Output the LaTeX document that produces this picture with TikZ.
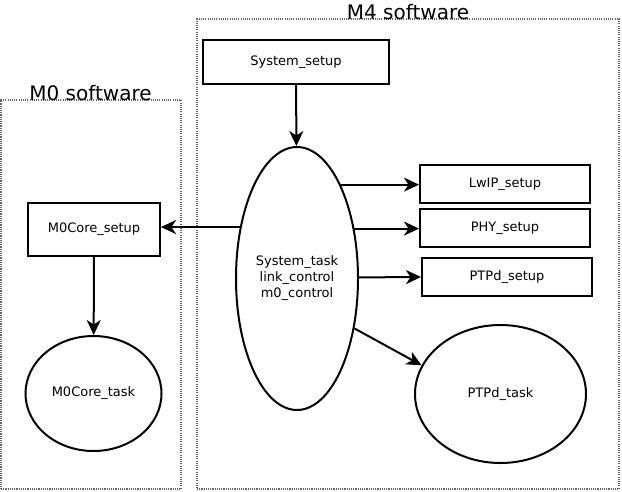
\documentclass[tikz,border=0pt]{standalone}
\usepackage{fontspec}
\setmainfont{DejaVu Sans}
\usetikzlibrary{shapes.geometric,arrows.meta}
\begin{document}
\begin{tikzpicture}[x=1pt,y=-1pt,
  box/.style={draw=black,line width=2pt,rectangle,inner sep=0pt,font=\fontsize{13}{16}\selectfont},
  oval/.style={draw=black,line width=2pt,ellipse,inner sep=0pt,align=center,font=\fontsize{13}{16}\selectfont},
  frame/.style={draw=black!60,line width=1.1pt,dash pattern=on 1.1pt off 1.1pt,rectangle,inner sep=0pt},
  arr/.style={-{Stealth[length=15pt,width=14pt,inset=4.5pt]},line width=2pt},
  title/.style={font=\fontsize{20}{22}\selectfont,anchor=base,inner sep=0pt}]
\useasboundingbox (0,0) rectangle (622,491);
% frames
\node[frame,minimum width=180pt,minimum height=389pt] (m0frame) at (91,294.5) {};
\node[frame,minimum width=422pt,minimum height=470pt] (m4frame) at (408,254) {};
\node[title] (m0title) at (90.5,100) {M0 software};
\node[title] (m4title) at (408,19.5) {M4 software};
% nodes
\node[box,minimum width=186pt,minimum height=44pt] (setup) at (296,62) {System\_setup};
\node[oval,minimum width=122pt,minimum height=263pt] (sys) at (297,278.5) {System\_task\\link\_control\\m0\_control};
\node[box,minimum width=170pt,minimum height=38pt] (lwip) at (505,184) {LwIP\_setup};
\node[box,minimum width=170pt,minimum height=38pt] (phy) at (505,228) {PHY\_setup};
\node[box,minimum width=170pt,minimum height=38pt] (ptpdsetup) at (507,277) {PTPd\_setup};
\node[oval,minimum width=171pt,minimum height=138pt] (ptask) at (500.5,394) {PTPd\_task};
\node[box,minimum width=132pt,minimum height=53pt] (m0setup) at (94,229.5) {M0Core\_setup};
\node[oval,minimum width=136pt,minimum height=115pt] (m0task) at (93.5,393.5) {M0Core\_task};
% connectors
\draw[arr] (setup) -- (sys);
\draw[arr] (sys.138) -- (sys.138 -| m0setup.east);
\draw[arr] (sys.65.8) -- (sys.65.8 -| lwip.west);
\draw[arr] (sys.41.9) -- (sys.41.9 -| phy.west);
\draw[arr] (sys.1.5) -- (ptpdsetup.west);
\draw[arr] (sys.-41.9) -- (ptask.160.8);
\draw[arr] (m0setup) -- (m0task);
\end{tikzpicture}
\end{document}
